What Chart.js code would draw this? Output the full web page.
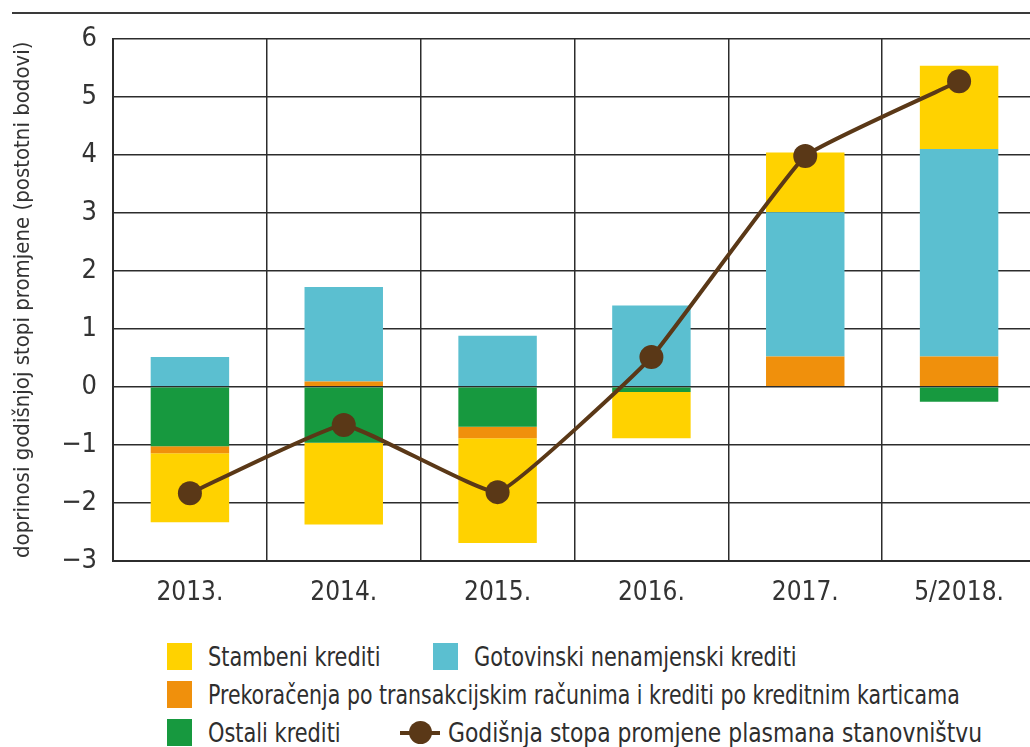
<!DOCTYPE html>
<html lang="hr">
<head>
  <meta charset="UTF-8">
  <title>Doprinosi godišnjoj stopi promjene</title>
  <script src="https://cdn.jsdelivr.net/npm/chart.js"></script>
  <style>
    body {
      margin: 0;
      width: 1030px;
      height: 747px;
      overflow: hidden;
      background: #fff;
      position: relative;
      font-family: "DejaVu Sans Condensed", "DejaVu Sans", sans-serif;
      color: #2e2e2e;
    }
    .rule {
      position: absolute;
      left: 12px;
      top: 12px;
      width: 1030px;
      height: 2px;
      background: #3a3a3a;
    }
    #wrap {
      position: absolute;
      left: 0;
      top: 0;
    }
    .leg {
      position: absolute;
      display: flex;
      align-items: center;
      font-size: 27px;
      white-space: nowrap;
      height: 27px;
    }
    .leg .t {
      display: inline-block;
      transform: scaleX(0.86);
      transform-origin: left center;
    }
    .sw {
      width: 25px;
      height: 27px;
      margin-right: 16px;
    }
    .ln {
      position: relative;
      width: 40px;
      height: 27px;
      margin-right: 8px;
    }
    .ln::before {
      content: "";
      position: absolute;
      left: 0; right: 0; top: 12px;
      height: 4px;
      background: #5a3817;
    }
    .ln::after {
      content: "";
      position: absolute;
      left: 9px; top: 2px;
      width: 23px; height: 23px;
      border-radius: 50%;
      background: #5a3817;
    }
  </style>
</head>
<body>
  <div class="rule"></div>
  <div id="wrap"><canvas id="chart" width="1048" height="610"></canvas></div>

  <!-- legend, laid out like the original (3 rows) -->
  <div class="leg" style="left:167px; top:643px;"><span class="sw" style="background:#ffd200"></span><span class="t">Stambeni krediti</span></div>
  <div class="leg" style="left:433px; top:643px;"><span class="sw" style="background:#5bbfd0"></span><span class="t">Gotovinski nenamjenski krediti</span></div>
  <div class="leg" style="left:167px; top:681px;"><span class="sw" style="background:#f0900c"></span><span class="t" style="transform:scaleX(0.845)">Prekoračenja po transakcijskim računima i krediti po kreditnim karticama</span></div>
  <div class="leg" style="left:167px; top:719px;"><span class="sw" style="background:#17993f"></span><span class="t">Ostali krediti</span></div>
  <div class="leg" style="left:400px; top:719px;"><span class="ln"></span><span class="t" style="transform:scaleX(0.9)">Godišnja stopa promjene plasmana stanovništvu</span></div>

  <script>
    const labels = ["2013.", "2014.", "2015.", "2016.", "2017.", "5/2018."];

    // doprinosi (postotni bodovi)
    const ostali = [-1.03, -0.97, -0.69, -0.09, 0, -0.26];
    const prekoracenja = [-0.12, 0.09, -0.20, 0, 0.52, 0.52];
    const gotovinski = [0.51, 1.63, 0.88, 1.40, 2.49, 3.58];
    const stambeni = [-1.19, -1.41, -1.81, -0.80, 1.03, 1.44];

    // godišnja stopa promjene plasmana stanovništvu
    const stopa = [-1.84, -0.66, -1.82, 0.51, 3.98, 5.27];

    const yTicks = [6, 5, 4, 3, 2, 1, 0, -1, -2, -3];

    const FONT = "'DejaVu Sans Condensed', 'DejaVu Sans', sans-serif";
    const gridColor = "#2c2c2c";

    const bar = (label, data, color) => ({
      type: "bar",
      label: label,
      data: data,
      backgroundColor: color,
      stack: "doprinosi",
      order: 1,
      barPercentage: 0.51,
      categoryPercentage: 1
    });

    new Chart(document.getElementById("chart"), {
      data: {
        labels: labels,
        datasets: [
          bar("Ostali krediti", ostali, "#17993f"),
          bar("Prekoračenja po transakcijskim računima i krediti po kreditnim karticama", prekoracenja, "#f0900c"),
          bar("Gotovinski nenamjenski krediti", gotovinski, "#5bbfd0"),
          bar("Stambeni krediti", stambeni, "#ffd200"),
          {
            type: "line",
            label: "Godišnja stopa promjene plasmana stanovništvu",
            data: stopa,
            stack: "stopa",
            order: 0,
            borderColor: "#5a3817",
            borderWidth: 4,
            pointRadius: 12,
            pointHoverRadius: 12,
            pointBackgroundColor: "#5a3817",
            pointBorderWidth: 0,
            tension: 0.1
          }
        ]
      },
      options: {
        responsive: false,
        animation: false,
        layout: { padding: { top: 39, right: 8, left: 0, bottom: 0 } },
        plugins: {
          legend: { display: false },
          tooltip: { enabled: false }
        },
        scales: {
          x: {
            stacked: true,
            offset: true,
            grid: { color: gridColor, lineWidth: 1.5, drawTicks: false, offset: true },
            border: { color: gridColor, width: 2 },
            ticks: { color: "#333", font: { family: FONT, size: 26 }, padding: 17 },
            afterFit: s => { s.height = 49.5; }
          },
          y: {
            stacked: true,
            min: -3,
            max: 6,
            afterBuildTicks: s => { s.ticks = yTicks.map(v => ({ value: v })); },
            grid: { color: gridColor, lineWidth: 1.5, drawTicks: false },
            border: { color: gridColor, width: 2 },
            ticks: {
              color: "#333",
              font: { family: FONT, size: 27 },
              padding: 16,
              callback: v => (v < 0 ? "\u2212" + Math.abs(v) : String(v))
            },
            title: {
              display: true,
              text: "doprinosi godišnjoj stopi promjene (postotni bodovi)",
              color: "#333",
              font: { family: FONT, size: 22 },
              padding: { top: 10, bottom: 0 }
            },
            afterFit: s => { s.width = 113; }
          }
        }
      }
    });
  </script>
</body>
</html>
